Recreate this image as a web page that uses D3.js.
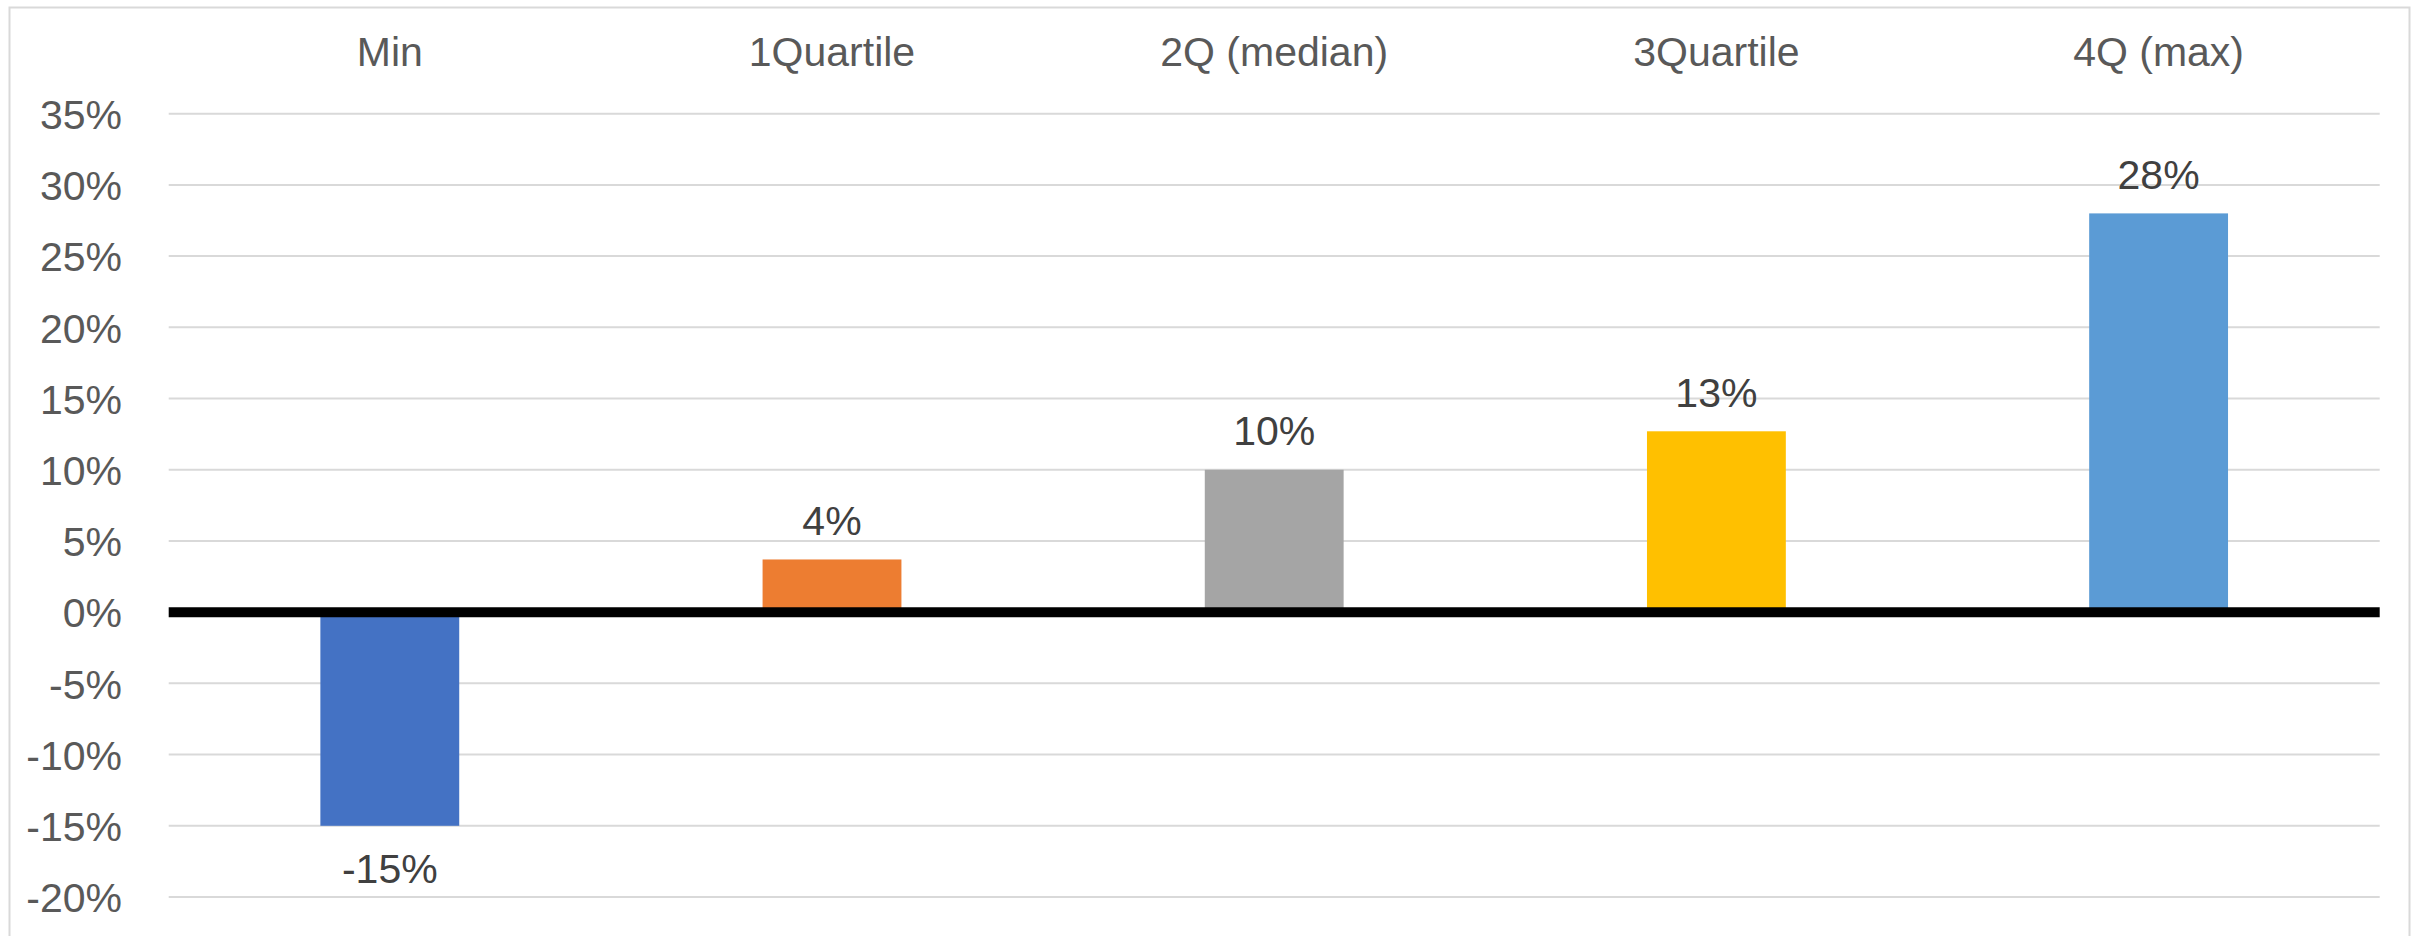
<!DOCTYPE html>
<html>
<head>
<meta charset="utf-8">
<script src="https://cdnjs.cloudflare.com/ajax/libs/d3/7.8.5/d3.min.js"></script>
<style>
  html, body { margin: 0; padding: 0; background: #fff; }
  svg { display: block; }
  text { font-family: "Liberation Sans", "Open Sans", sans-serif; }
</style>
</head>
<body>
<svg id="chart" width="2417" height="936"></svg>
<script>
const categories = ["Min", "1Quartile", "2Q (median)", "3Quartile", "4Q (max)"];
const values = [-0.15, 0.037, 0.10, 0.127, 0.28];
const labels = ["-15%", "4%", "10%", "13%", "28%"];
const colors = ["#4472C4", "#ED7D31", "#A5A5A5", "#FFC000", "#5B9BD5"];
const yTicks = [-0.20, -0.15, -0.10, -0.05, 0, 0.05, 0.10, 0.15, 0.20, 0.25, 0.30, 0.35];
const yTickLabels = ["-20%", "-15%", "-10%", "-5%", "0%", "5%", "10%", "15%", "20%", "25%", "30%", "35%"];

const svg = d3.select("#chart");
const plot = { left: 168.7, right: 2379.7 };

// outer chart border
svg.append("rect")
  .attr("x", 9.5).attr("y", 7.5)
  .attr("width", 2400).attr("height", 960)
  .attr("fill", "#fff").attr("stroke", "#D9D9D9").attr("stroke-width", 2);

const y = d3.scaleLinear().domain([-0.20, 0.35]).range([897, 113.7]);
const x = d3.scaleBand().domain(categories).range([plot.left, plot.right])
  .paddingInner(0.686).paddingOuter(0.343);

// gridlines
svg.append("g").selectAll("line").data(yTicks.filter(d => d !== 0)).join("line")
  .attr("x1", plot.left).attr("x2", plot.right)
  .attr("y1", d => y(d)).attr("y2", d => y(d))
  .attr("stroke", "#D9D9D9").attr("stroke-width", 2);

// y axis labels via d3 axis
const yAxis = d3.axisLeft(y).tickValues(yTicks)
  .tickFormat((d, i) => yTickLabels[i]).tickSize(0).tickPadding(0);
const ya = svg.append("g").attr("transform", "translate(122,0)").call(yAxis);
ya.select(".domain").remove();
ya.selectAll("text")
  .attr("font-size", 41).attr("fill", "#595959")
  .attr("font-family", "Liberation Sans, sans-serif")
  .attr("dy", "0.36em");

// bars
svg.append("g").selectAll("rect").data(values).join("rect")
  .attr("x", (d, i) => x(categories[i]))
  .attr("width", x.bandwidth())
  .attr("y", d => Math.min(y(d), y(0)))
  .attr("height", d => Math.abs(y(d) - y(0)))
  .attr("fill", (d, i) => colors[i]);

// zero line
svg.append("line")
  .attr("x1", plot.left).attr("x2", plot.right)
  .attr("y1", y(0)).attr("y2", y(0))
  .attr("stroke", "#000").attr("stroke-width", 10);

// category labels on top
const xAxis = d3.axisTop(x).tickSize(0).tickPadding(0);
const xa = svg.append("g").attr("transform", "translate(0,66)").call(xAxis);
xa.select(".domain").remove();
xa.selectAll("text")
  .attr("font-size", 41).attr("fill", "#595959")
  .attr("font-family", "Liberation Sans, sans-serif")
  .attr("dy", 0);

// data labels
svg.append("g").selectAll("text").data(values).join("text")
  .attr("x", (d, i) => x(categories[i]) + x.bandwidth() / 2)
  .attr("y", d => d >= 0 ? y(d) - 24.5 : y(d) + 57.6)
  .attr("text-anchor", "middle")
  .attr("font-size", 41).attr("fill", "#404040")
  .text((d, i) => labels[i]);
</script>
</body>
</html>
